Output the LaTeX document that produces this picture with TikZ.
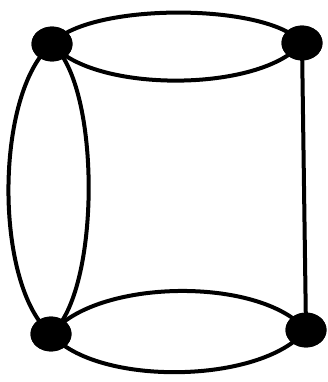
\documentclass[tikz,border=0pt]{standalone}
\begin{document}
\begin{tikzpicture}[x=1pt,y=-1pt,
  vtx/.style={circle,fill=black,minimum width=41pt,minimum height=41pt,inner sep=0pt,yscale=0.85},
  edge/.style={line width=4pt}]
\useasboundingbox (0,0) rectangle (327,382);
\node[vtx] (tl) at (52,44) {};
\node[vtx] (tr) at (302,43) {};
\node[vtx] (bl) at (51,334) {};
\node[vtx] (br) at (306,330) {};
\draw[edge] (tl.center) to[bend right=50,looseness=0.66] (tr.center);
\draw[edge] (tl.center) to[bend left=50,looseness=0.55] (tr.center);
\draw[edge] (bl.center) to[bend right=50,looseness=0.70] (br.center);
\draw[edge] (bl.center) to[bend left=50,looseness=0.715] (br.center);
\draw[edge] (tl.center) to[bend right=50,looseness=0.66] (bl.center);
\draw[edge] (tl.center) to[bend left=50,looseness=0.57] (bl.center);
\draw[edge] (tr.center) -- (br.center);
\node[vtx] at (tl) {};
\node[vtx] at (tr) {};
\node[vtx] at (bl) {};
\node[vtx] at (br) {};
\end{tikzpicture}
\end{document}
